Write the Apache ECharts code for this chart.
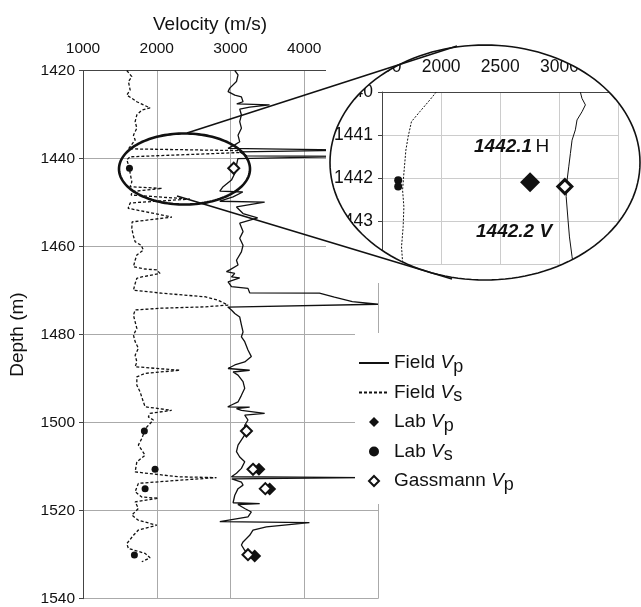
<!DOCTYPE html>
<html>
<head>
<meta charset="utf-8">
<script src="https://cdn.jsdelivr.net/npm/echarts@6/dist/echarts.min.js"></script>
<style>
  html, body { margin: 0; padding: 0; background: #fff; }
  #chart { width: 641px; height: 607px; }
</style>
</head>
<body>
<div id="chart"></div>
<script>
// ---- field logs (depth m, velocity m/s) ----
const vsDepth = [1420.0,1421.4,1422.5,1424.4,1425.6,1426.3,1427.1,1427.8,1428.5,1429.0,1430.1,1431.6,1433.1,1434.7,1435.8,1437.3,1437.8,1438.2,1438.6,1439.6,1440.3,1442.2,1443.3,1445.3,1446.4,1446.8,1447.5,1448.3,1449.2,1450.1,1451.3,1453.3,1454.4,1455.9,1457.4,1458.9,1459.7,1460.8,1461.9,1463.1,1464.6,1465.1,1465.3,1466.1,1466.9,1467.2,1468.4,1469.9,1470.6,1471.4,1472.2,1473.3,1473.7,1474.0,1474.4,1475.6,1477.1,1478.6,1480.1,1481.6,1483.1,1484.7,1486.2,1487.3,1488.1,1488.8,1489.6,1491.5,1493.0,1495.3,1496.4,1497.2,1497.9,1498.7,1499.4,1501.0,1501.7,1503.6,1505.1,1507.4,1508.9,1511.2,1512.3,1512.5,1513.1,1513.8,1515.7,1516.9,1517.2,1518.0,1519.5,1521.0,1522.2,1523.3,1524.4,1525.6,1527.5,1528.6,1529.7,1530.7,1531.6];
const vsVel = [1594,1662,1616,1639,1594,1662,1730,1819,1909,1797,1730,1707,1730,1684,1707,1639,1616,3125,3190,1639,1594,1630,1639,1662,1639,2071,1666,1653,2450,1639,1612,2206,1666,1662,1680,1707,1788,1819,1730,1707,1684,1842,2000,2044,1797,1730,1707,1684,2067,2652,2832,2967,2652,2067,1707,1684,1707,1730,1684,1707,1751,1707,1730,1707,2314,1842,1730,1730,1774,1819,1842,2202,1909,1886,1954,1865,1842,1797,1751,1842,1730,1707,2292,2810,2292,1751,1707,1797,2021,1707,1751,1662,1751,2000,1751,1684,1594,1616,1842,1909,1797];

const vpDepth = [1420.0,1421.0,1422.5,1424.0,1424.8,1425.6,1426.0,1427.1,1427.6,1427.8,1428.3,1428.75,1430.1,1431.6,1433.1,1434.7,1436.2,1436.9,1437.7,1438.1,1438.1,1438.5,1438.5,1439.4,1439.5,1439.9,1440.0,1440.3,1441.5,1443.4,1444.9,1446.4,1447.4,1447.6,1448.7,1449.7,1449.9,1451.0,1452.5,1453.5,1454.7,1456.6,1458.1,1459.7,1461.2,1463.1,1464.2,1465.3,1465.7,1466.1,1466.9,1467.1,1468.0,1469.1,1469.5,1470.5,1470.6,1471.5,1472.5,1473.1,1473.75,1474.4,1475.2,1476.0,1477.8,1479.4,1480.5,1481.6,1483.5,1485.0,1486.2,1486.9,1487.7,1488.1,1488.5,1489.2,1490.7,1492.2,1493.8,1495.3,1496.0,1496.4,1496.5,1496.8,1497.2,1497.9,1498.3,1499.4,1500.6,1502.8,1505.1,1506.6,1507.8,1508.9,1510.4,1511.5,1512.3,1512.5,1512.7,1512.8,1513.5,1514.2,1515.0,1516.5,1518.2,1518.4,1518.6,1519.5,1520.3,1521.4,1522.5,1522.7,1523.7,1524.4,1525.6,1527.1,1527.8,1529.0,1530.1,1530.9];
const vpVel = [3058,3102,3081,2990,2967,3058,3148,3170,3085,3530,3260,3125,3148,3125,3148,3102,3125,3058,2967,2949,4700,4700,3125,3220,4700,4700,3100,3102,3081,3058,3013,2900,2855,3166,3035,2855,3463,3081,3170,3368,3125,3170,3125,3170,3148,3081,3102,2990,2945,3058,3013,3125,2967,3013,3237,3260,4206,4409,4652,5000,2963,3013,3058,3125,3148,3170,3148,3193,3237,3283,3193,3058,2967,3260,3035,3102,3170,3193,3148,3102,3013,2963,3260,3081,3148,3463,3193,3237,3193,3193,3102,3081,3125,3193,3148,3081,3013,4800,4800,3017,3148,3170,3102,3058,3035,3396,3100,3193,3283,3237,2855,4070,3486,3305,3260,3170,3148,3193,3260,3305];

// ---- lab measurements ----
const labVsDepth = [1442.2, 1501.9, 1510.6, 1515.0, 1530.1];
const labVsVel = [1630, 1832, 1977, 1842, 1697];
const labVpDepth = [1510.6, 1515.1, 1530.3];
const labVpVel = [3386, 3531, 3328];
const gassDepth = [1442.2, 1501.9, 1510.6, 1515.0, 1530.0];
const gassVel = [3044, 3216, 3305, 3472, 3237];

// ---- inset (1440-1444 m) ----
const inVsDepth = [1440.0,1440.19,1440.46,1440.69,1441.04,1441.35,1441.89,1442.28,1442.67,1443.13,1443.6,1443.95];
const inVsVel = [1959,1903,1819,1749,1721,1702,1685,1674,1685,1679,1665,1674];
const inVpDepth = [1440.0,1440.15,1440.3,1440.46,1440.65,1440.88,1441.12,1441.43,1441.74,1442.05,1442.43,1442.98,1443.37,1443.83,1443.98];
const inVpVel = [3177,3191,3220,3191,3149,3135,3107,3093,3079,3065,3057,3073,3085,3107,3115];
const inLabVs = [[1637, 1442.05], [1637, 1442.2]];
const inLabVp = [[2752, 1442.1]];
const inGass = [[3046, 1442.2]];
const inArrows = [[[2533, 1441.47], [2682, 1441.83]], [[2821, 1442.88], [2990, 1442.43]]];

const xTicks = [1000, 5000, 1000];   // min, max, interval
const yTicks = [1420, 1540, 20];

function zip(vel, dep) { return vel.map((v, i) => [v, dep[i]]); }

// outline points of an ellipse (for the zoom callout)
function ellipsePts(cx, cy, rx, ry, ccw) {
  const pts = [];
  for (let i = 0; i <= 144; i++) {
    const a = Math.PI + (ccw ? -1 : 1) * i * 2 * Math.PI / 144;
    pts.push([cx + rx * Math.cos(a), cy + ry * Math.sin(a)]);
  }
  return pts;
}

const big = { cx: 485, cy: 162.5, rx: 155, ry: 117.5 };
const small = { cx: 184.5, cy: 169, rx: 65.5, ry: 35.5 };
// white sheet with an elliptical hole (rect clockwise, ellipse counter-clockwise)
const maskPts = [[326, big.cy], [326, 30], [641, 30], [641, 283], [326, 283], [326, big.cy]]
  .concat(ellipsePts(big.cx, big.cy, big.rx, big.ry, true));
maskPts.push([326, big.cy]);

const font = 'Liberation Sans, Arial, sans-serif';
const plain = v => String(v);
const legendText = {
  'Field Vp': '{n|Field }{v|V}{s|p}',
  'Field Vs': '{n|Field }{v|V}{s|s}',
  'Lab Vp': '{n|Lab }{v|V}{s|p}',
  'Lab Vs': '{n|Lab }{v|V}{s|s}',
  'Gassmann Vp': '{n|Gassmann }{v|V}{s|p}'
};
const diamond = 'path://M0,-1L1,0L0,1L-1,0Z';

const chart = echarts.init(document.getElementById('chart'));
chart.setOption({
  animation: false,
  backgroundColor: '#fff',
  title: {
    text: 'Velocity (m/s)', left: 148, top: 10,
    textStyle: { fontFamily: font, fontSize: 19, fontWeight: 'normal', color: '#111' }
  },
  legend: {
    orient: 'vertical', left: 355, top: 333, z: 30,
    backgroundColor: '#fff',
    padding: [17, 12, 10, 3],
    itemWidth: 30, itemHeight: 10, itemGap: 3.5,
    data: [
      { name: 'Field Vp', itemStyle: { opacity: 0 } },
      { name: 'Field Vs', itemStyle: { opacity: 0 } },
      { name: 'Lab Vp', icon: diamond },
      { name: 'Lab Vs', icon: 'circle' },
      { name: 'Gassmann Vp', icon: diamond }
    ],
    formatter: n => legendText[n],
    textStyle: {
      fontFamily: font, color: '#111',
      rich: {
        n: { fontFamily: font, fontSize: 19, lineHeight: 22, color: '#111' },
        v: { fontFamily: font, fontSize: 19, fontStyle: 'italic', lineHeight: 22, color: '#111' },
        s: { fontFamily: font, fontSize: 18, lineHeight: 14, padding: [8, 0, 0, 0], color: '#111' }
      }
    }
  },
  grid: [
    { left: 83, right: 263, top: 70.5, bottom: 8.3 },
    { left: 382, right: 21, top: 92, bottom: 343 }
  ],
  xAxis: [
    {
      type: 'value', position: 'top', gridIndex: 0,
      min: xTicks[0], max: xTicks[1], interval: xTicks[2],
      axisLine: { show: true, lineStyle: { color: '#444', width: 1 } },
      axisTick: { show: false },
      axisLabel: { fontFamily: font, fontSize: 15.5, color: '#111', margin: 14, formatter: plain },
      splitLine: { show: true, lineStyle: { color: '#aaa', width: 1 } }
    },
    {
      type: 'value', position: 'top', gridIndex: 1, z: 11,
      min: 1500, max: 3500, interval: 500,
      axisLine: { show: true, lineStyle: { color: '#444', width: 1 } },
      axisTick: { show: false },
      axisLabel: { fontFamily: font, fontSize: 17.5, color: '#111', margin: 16, formatter: plain },
      splitLine: { show: true, lineStyle: { color: '#ccc', width: 1 } }
    }
  ],
  yAxis: [
    {
      type: 'value', inverse: true, gridIndex: 0,
      min: yTicks[0], max: yTicks[1], interval: yTicks[2],
      name: 'Depth (m)', nameLocation: 'middle', nameGap: 56,
      nameTextStyle: { fontFamily: font, fontSize: 19, color: '#111' },
      axisLine: { show: true, lineStyle: { color: '#444', width: 1 } },
      axisTick: { show: true, length: 4, lineStyle: { color: '#444' } },
      axisLabel: { fontFamily: font, fontSize: 15.5, color: '#111', margin: 8, formatter: plain },
      splitLine: { show: true, lineStyle: { color: '#aaa', width: 1 } }
    },
    {
      type: 'value', inverse: true, gridIndex: 1, z: 11,
      min: 1440, max: 1444, interval: 1,
      axisLine: { show: true, lineStyle: { color: '#444', width: 1 } },
      axisTick: { show: true, length: 4, lineStyle: { color: '#444' } },
      axisLabel: { fontFamily: font, fontSize: 17.5, color: '#111', margin: 9, formatter: plain },
      splitLine: { show: true, lineStyle: { color: '#ccc', width: 1 } }
    }
  ],
  series: [
    {
      name: 'Field Vs', type: 'line', symbol: 'none', data: zip(vsVel, vsDepth),
      lineStyle: { color: '#111', width: 1.3, type: [3, 2] }, itemStyle: { color: '#111' }
    },
    {
      name: 'Field Vp', type: 'line', symbol: 'none', data: zip(vpVel, vpDepth),
      lineStyle: { color: '#111', width: 1.3 }, itemStyle: { color: '#111' }
    },
    {
      name: 'Lab Vp', type: 'scatter', symbol: 'diamond', symbolSize: 13, z: 3,
      data: zip(labVpVel, labVpDepth), itemStyle: { color: '#111', opacity: 1 }
    },
    {
      name: 'Lab Vs', type: 'scatter', symbol: 'circle', symbolSize: 7, z: 3,
      data: zip(labVsVel, labVsDepth), itemStyle: { color: '#111', opacity: 1 }
    },
    {
      name: 'Gassmann Vp', type: 'scatter', symbol: 'diamond', symbolSize: 11, z: 4,
      data: zip(gassVel, gassDepth),
      itemStyle: { color: '#fff', borderColor: '#111', borderWidth: 2, opacity: 1 }
    },
    // inset
    {
      name: 'inset Vs', type: 'line', xAxisIndex: 1, yAxisIndex: 1, z: 12, symbol: 'none',
      data: zip(inVsVel, inVsDepth), lineStyle: { color: '#111', width: 1, type: [2, 1.5] }
    },
    {
      name: 'inset Vp', type: 'line', xAxisIndex: 1, yAxisIndex: 1, z: 12, symbol: 'none',
      data: zip(inVpVel, inVpDepth), lineStyle: { color: '#111', width: 1 },
      markLine: {
        silent: true, symbol: ['none', 'arrow'], symbolSize: 8,
        label: { show: false },
        lineStyle: { color: '#111', width: 1, type: 'solid' },
        data: inArrows.map(a => [{ coord: a[0] }, { coord: a[1] }])
      }
    },
    {
      name: 'inset Lab Vs', type: 'scatter', xAxisIndex: 1, yAxisIndex: 1, z: 13,
      symbol: 'circle', symbolSize: 8, data: inLabVs, itemStyle: { color: '#111', opacity: 1 }
    },
    {
      name: 'inset Lab Vp', type: 'scatter', xAxisIndex: 1, yAxisIndex: 1, z: 13,
      symbol: 'diamond', symbolSize: 20, data: inLabVp, itemStyle: { color: '#111', opacity: 1 }
    },
    {
      name: 'inset Gassmann', type: 'scatter', xAxisIndex: 1, yAxisIndex: 1, z: 13,
      symbol: 'diamond', symbolSize: 14, data: inGass,
      itemStyle: { color: '#fff', borderColor: '#111', borderWidth: 3, opacity: 1 }
    }
  ],
  graphic: [
    // white backing under the zoomed inset
    { type: 'rect', z: 10, silent: true, shape: { x: 326, y: 30, width: 315, height: 253 }, style: { fill: '#fff' } },
    // mask outside the big ellipse
    { type: 'polygon', z: 20, silent: true, shape: { points: maskPts }, style: { fill: '#fff' } },
    {
      type: 'polygon', z: 21, silent: true,
      shape: { points: ellipsePts(big.cx, big.cy, big.rx, big.ry, false) },
      style: { fill: 'none', stroke: '#111', lineWidth: 1.6 }
    },
    {
      type: 'polygon', z: 21, silent: true,
      shape: { points: ellipsePts(small.cx, small.cy, small.rx, small.ry, false) },
      style: { fill: 'none', stroke: '#111', lineWidth: 2.6 }
    },
    { type: 'line', z: 21, silent: true, shape: { x1: 187, y1: 133, x2: 457, y2: 46 }, style: { stroke: '#111', lineWidth: 1.6 } },
    { type: 'line', z: 21, silent: true, shape: { x1: 177, y1: 196, x2: 452, y2: 279 }, style: { stroke: '#111', lineWidth: 1.6 } },
    {
      type: 'text', z: 22, silent: true, left: 474, top: 137,
      style: {
        text: '{b|1442.1} {r|H}',
        rich: {
          b: { fontFamily: font, fontSize: 19, fontWeight: 'bold', fontStyle: 'italic', fill: '#111' },
          r: { fontFamily: font, fontSize: 19, fill: '#111' }
        }
      }
    },
    {
      type: 'text', z: 22, silent: true, left: 476, top: 222,
      style: { text: '1442.2 V', font: 'italic bold 19px Liberation Sans, Arial, sans-serif', fill: '#111' }
    }
  ]
});
</script>
</body>
</html>
